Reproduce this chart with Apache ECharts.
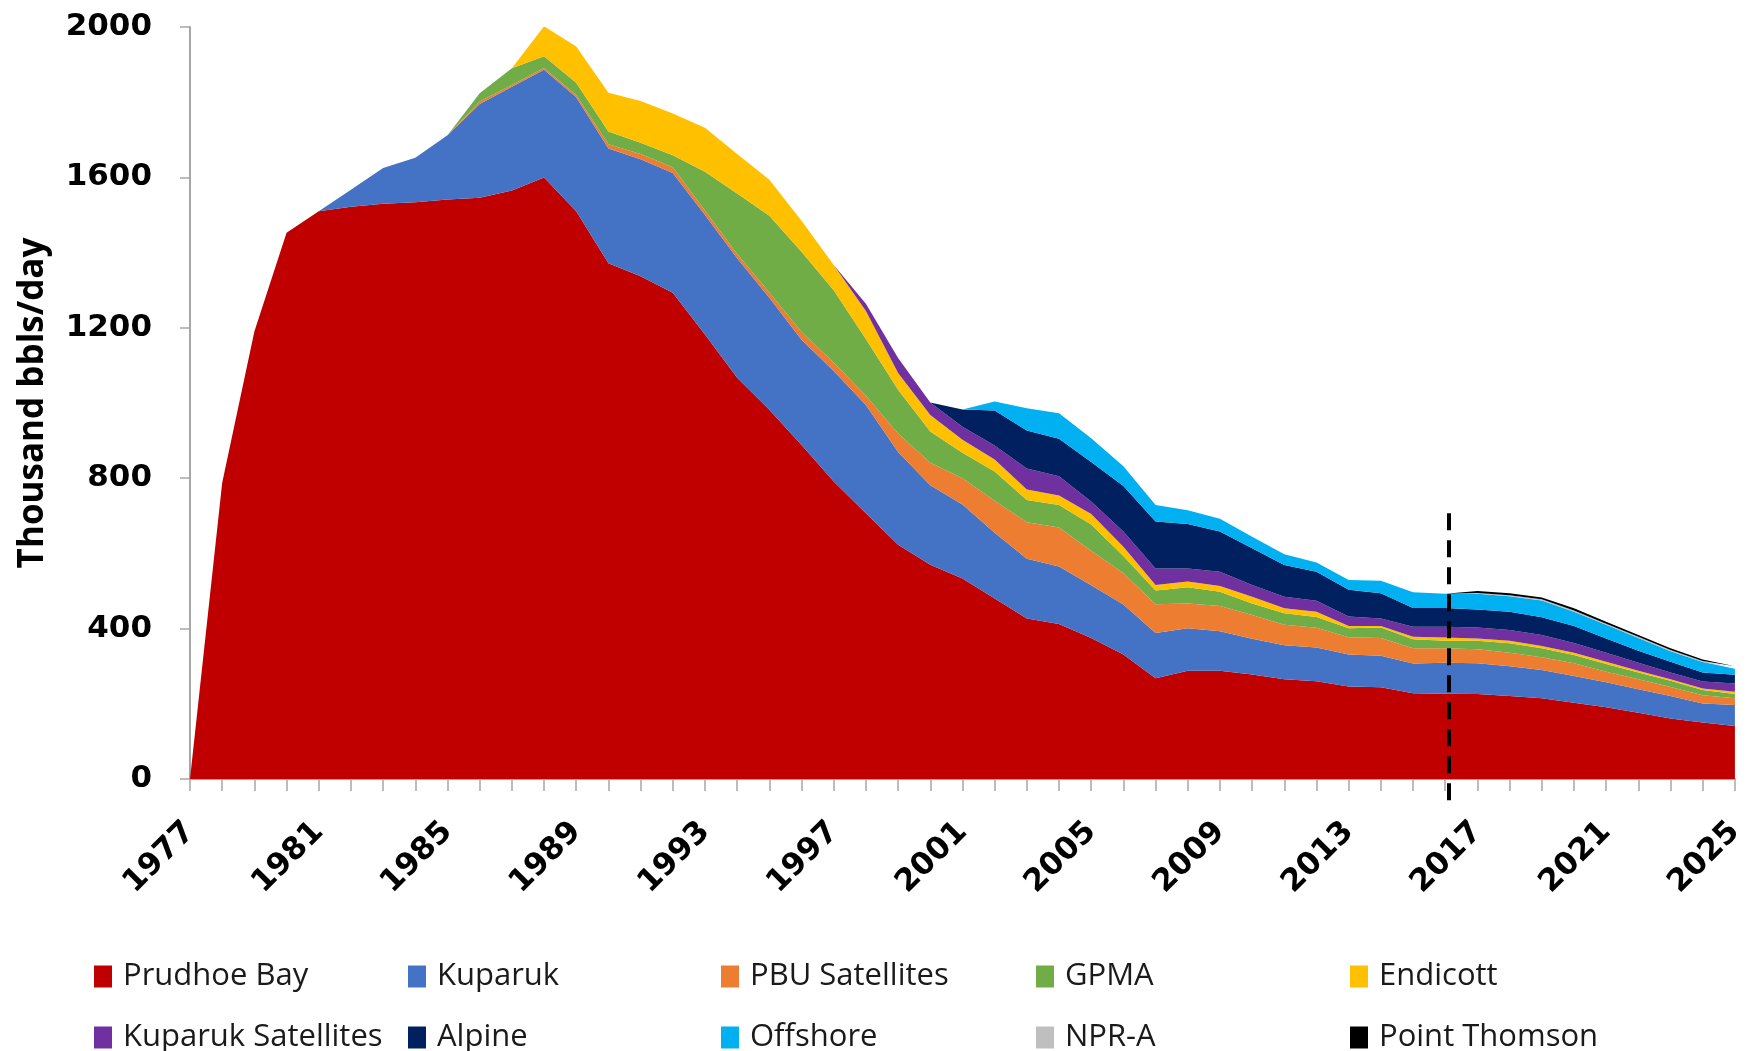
<!DOCTYPE html>
<html>
<head>
<meta charset="utf-8">
<script src="https://cdn.jsdelivr.net/npm/echarts@6/dist/echarts.min.js"></script>
<style>
  html, body { margin: 0; padding: 0; background: #fff; }
  #chart { width: 1748px; height: 1051px; }
</style>
</head>
<body>
<div id="chart"></div>
<script>
// years on the x axis
var years = [];
for (var y = 1977; y <= 2025; y++) years.push(String(y));

// thousand bbls/day
var prudhoeBay = [0, 788, 1190, 1453, 1510, 1522, 1530, 1534, 1541, 1546,
  1565, 1600, 1510, 1372, 1337, 1293, 1182, 1067, 982, 888,
  791, 707, 623, 570, 533, 480, 427, 412, 375, 331,
  268, 288, 288, 278, 265, 260, 246, 244, 228, 227,
  226, 221, 215, 203, 191, 176, 161, 150, 141];
var kuparuk = [0, 0, 0, 0, 0, 45, 95, 118, 171, 249,
  276, 286, 303, 305, 311, 319, 318, 318, 298, 280,
  294, 288, 247, 211, 197, 175, 159, 153, 140, 133,
  120, 113, 105, 95, 91, 90, 85, 84, 79, 82,
  82, 79, 75, 71, 66, 63, 60, 51, 56];
var pbuSatellites = [0, 0, 0, 0, 0, 0, 0, 0, 0, 7,
  5, 5, 6, 11, 14, 15, 12, 11, 14, 21,
  23, 24, 49, 60, 70, 85, 97, 104, 92, 83,
  77, 66, 67, 63, 54, 52, 46, 47, 41, 39,
  37, 36, 34, 34, 28, 26, 24, 22, 18];
var gpma = [0, 0, 0, 0, 0, 0, 0, 0, 0, 22,
  44, 31, 33, 34, 30, 32, 103, 161, 204, 213,
  192, 151, 116, 83, 68, 78, 59, 60, 70, 46,
  36, 43, 38, 31, 31, 29, 24, 28, 24, 20,
  23, 25, 24, 22, 21, 18, 16, 14, 11];
var endicott = [0, 0, 0, 0, 0, 0, 0, 0, 0, 0,
  0, 80, 96, 103, 111, 111, 117, 105, 96, 83,
  67, 75, 45, 44, 34, 32, 28, 25, 28, 25,
  15, 15, 15, 18, 13, 14, 6, 4, 6, 8,
  6, 7, 6, 6, 6, 5, 4, 4, 6];
var kuparukSatellites = [0, 0, 0, 0, 0, 0, 0, 0, 0, 0,
  0, 0, 0, 0, 0, 0, 0, 0, 0, 0,
  0, 19, 40, 33, 35, 37, 56, 51, 33, 40,
  44, 35, 38, 31, 31, 29, 25, 20, 27, 29,
  29, 28, 29, 26, 24, 21, 18, 18, 22];
var alpine = [0, 0, 0, 0, 0, 0, 0, 0, 0, 0,
  0, 0, 0, 0, 0, 0, 0, 0, 0, 0,
  0, 0, 0, 0, 46, 93, 101, 100, 105, 121,
  125, 118, 107, 98, 84, 77, 71, 67, 50, 50,
  48, 49, 47, 45, 38, 32, 29, 24, 23];
var offshore = [0, 0, 0, 0, 0, 0, 0, 0, 0, 0,
  0, 0, 0, 0, 0, 0, 0, 0, 0, 0,
  0, 0, 0, 0, 0, 24, 59, 68, 63, 53,
  44, 37, 34, 30, 29, 25, 26, 33, 42, 38,
  42, 41, 45, 38, 36, 34, 28, 28, 16];
var npra = [0, 0, 0, 0, 0, 0, 0, 0, 0, 0,
  0, 0, 0, 0, 0, 0, 0, 0, 0, 0,
  0, 0, 0, 0, 0, 0, 0, 0, 0, 0,
  0, 0, 0, 0, 0, 0, 0, 0, 0, 0,
  2, 3, 3, 3, 3, 3, 3, 3, 3];
var pointThomson = [0, 0, 0, 0, 0, 0, 0, 0, 0, 0,
  0, 0, 0, 0, 0, 0, 0, 0, 0, 0,
  0, 0, 0, 0, 0, 0, 0, 0, 0, 0,
  0, 0, 0, 0, 0, 0, 0, 0, 0, 0,
  5, 5, 5, 6, 5, 5, 5, 4, 4];

// forecast divider (runs a little below the axis)
var forecastYear = '2016';
var forecastSpan = [707, -70];

var fieldNames = ['Prudhoe Bay', 'Kuparuk', 'PBU Satellites', 'GPMA', 'Endicott',
  'Kuparuk Satellites', 'Alpine', 'Offshore', 'NPR-A', 'Point Thomson'];
var fieldData = [prudhoeBay, kuparuk, pbuSatellites, gpma, endicott,
  kuparukSatellites, alpine, offshore, npra, pointThomson];
var fieldColors = ['#C00000', '#4472C4', '#ED7D31', '#70AD47', '#FFC000',
  '#7030A0', '#002060', '#00B0F0', '#BFBFBF', '#000000'];

var chart = echarts.init(document.getElementById('chart'));

// px per unit on the main grid: 752 / 2000
var pxPerUnit = 752 / 2000;

var series = [];
for (var i = 0; i < fieldNames.length; i++) {
  series.push({
    name: fieldNames[i],
    type: 'line',
    stack: 'total',
    data: fieldData[i],
    symbol: 'none',
    showSymbol: false,
    lineStyle: { width: 0 },
    areaStyle: { color: fieldColors[i], opacity: 1 },
    itemStyle: { color: fieldColors[i] },
    emphasis: { disabled: true },
    silent: true
  });
}
// dashed divider lives on a second, hidden grid that reaches below the axis
series.push({
  type: 'line',
  xAxisIndex: 1,
  yAxisIndex: 1,
  data: years.map(function () { return '-'; }),
  symbol: 'none',
  silent: true,
  markLine: {
    silent: true,
    symbol: ['none', 'none'],
    label: { show: false },
    lineStyle: { color: '#000', width: 4, type: [17, 10] },
    data: [[{ coord: [forecastYear, forecastSpan[0]] }, { coord: [forecastYear, forecastSpan[1]] }]]
  }
});

// legend: one small legend per entry to keep Excel's even columns
var colLeft = [89, 403, 716, 1031, 1345];
var rowTop = [956, 1017];
var legends = [];
for (var j = 0; j < fieldNames.length; j++) {
  legends.push({
    data: [fieldNames[j]],
    left: colLeft[j % 5],
    top: rowTop[Math.floor(j / 5)],
    icon: 'rect',
    itemWidth: 18,
    itemHeight: 22,
    selectedMode: false,
    textStyle: {
      fontFamily: 'Open Sans',
      fontSize: 31,
      color: '#1a1a1a',
      padding: [0, 0, 0, 6]
    }
  });
}

var tickFont = { fontFamily: 'DejaVu Sans', fontWeight: 'bold', fontSize: 31, color: '#000' };

chart.setOption({
  animation: false,
  backgroundColor: '#fff',
  grid: [
    { left: 190, right: 9, top: 27, bottom: 272 },
    { left: 190, right: 9, top: 27, bottom: 1051 - 27 - (2000 - forecastSpan[1]) * pxPerUnit }
  ],
  legend: legends,
  xAxis: [{
    type: 'category',
    data: years,
    boundaryGap: false,
    axisLine: { lineStyle: { color: '#A6A6A6', width: 2 } },
    axisTick: { show: true, interval: 0, length: 12, lineStyle: { color: '#A6A6A6', width: 1.5 } },
    axisLabel: Object.assign({ interval: 3, rotate: 45, margin: 48 }, tickFont),
    splitLine: { show: false }
  }, {
    type: 'category',
    gridIndex: 1,
    data: years,
    boundaryGap: false,
    show: false
  }],
  yAxis: [{
    type: 'value',
    min: 0,
    max: 2000,
    interval: 400,
    name: 'Thousand bbls/day',
    nameLocation: 'middle',
    nameGap: 139,
    nameTextStyle: { fontFamily: 'Open Sans', fontWeight: 'bold', fontSize: 35, color: '#000' },
    axisLine: { show: true, lineStyle: { color: '#A6A6A6', width: 2 } },
    axisTick: { show: true, length: 10, lineStyle: { color: '#A6A6A6', width: 1.5 } },
    axisLabel: Object.assign({
      margin: 38,
      formatter: function (v) { return String(v); }
    }, tickFont),
    splitLine: { show: false }
  }, {
    type: 'value',
    gridIndex: 1,
    min: forecastSpan[1],
    max: 2000,
    show: false,
    splitLine: { show: false }
  }],
  series: series
});
</script>
</body>
</html>
